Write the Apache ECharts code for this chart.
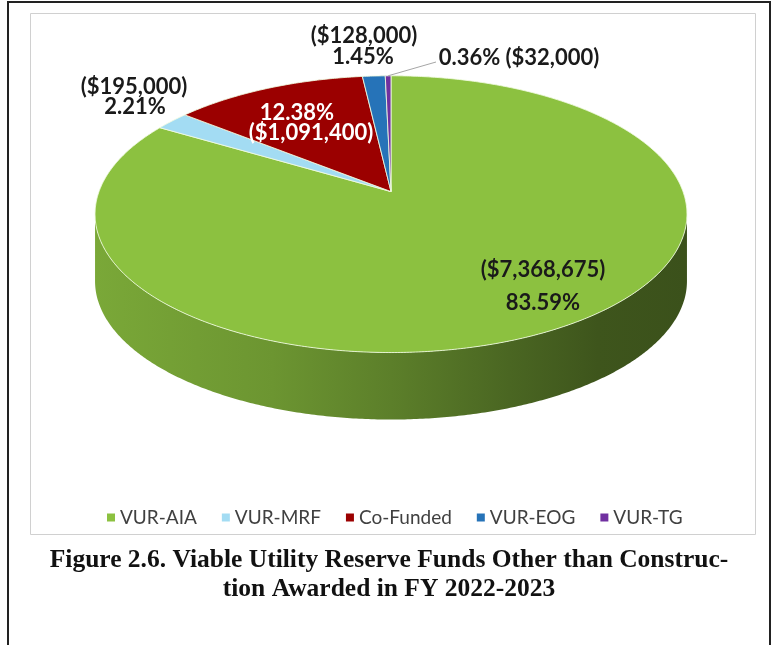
<!DOCTYPE html>
<html><head><meta charset="utf-8">
<script src="https://cdn.jsdelivr.net/npm/echarts@6/dist/echarts.min.js"></script>
<style>html,body{margin:0;padding:0;background:#fff}#c{width:778px;height:645px}</style>
</head><body><div id="c"></div>
<script>
// ---- data ----
const categories = ['VUR-AIA', 'VUR-MRF', 'Co-Funded', 'VUR-EOG', 'VUR-TG'];
const amounts = [7368675, 195000, 1091400, 128000, 32000];
const amountLabels = ['($7,368,675)', '($195,000)', '($1,091,400)', '($128,000)', '($32,000)'];
const percentLabels = ['83.59%', '2.21%', '12.38%', '1.45%', '0.36%'];
const captionText = 'Figure 2.6. Viable Utility Reserve Funds Other than Construc-\ntion Awarded in FY 2022-2023';

// ---- styles / layout ----
const colors = ['#8cc140', '#a3dcf3', '#9b0000', '#2673b8', '#7030a0'];
const geo = { cx: 391, cy: 191.6, A: 292, B: 134.7, k: 0.163, h: 67 };
const labelFont = 'bold 22px Lato';
const labelLayout = [
  { lines: [['amt', 543, 270], ['pct', 543, 303]], color: '#1a1a1a' },
  { lines: [['amt', 134, 87], ['pct', 135, 107]], color: '#1a1a1a' },
  { lines: [['pct', 297, 113], ['amt', 311, 133]], color: '#ffffff' },
  { lines: [['amt', 364, 36], ['pct', 363, 57]], color: '#1a1a1a' },
  { lines: [['both', 519, 58]], color: '#1a1a1a', leader: [436, 62] }
];

const total = amounts.reduce((a, b) => a + b, 0);
const starts = [];
{ let acc = 0; amounts.forEach(v => { starts.push(acc / total); acc += v; }); }

function proj(frac, drop) {
  const t = frac * 2 * Math.PI;
  const u = Math.sin(t), v = Math.cos(t);
  const d = 1 + geo.k * v;
  return [geo.cx + geo.A * u / d, geo.cy - geo.B * v / d + drop];
}
function arcPts(f1, f2, drop) {
  const n = Math.max(2, Math.ceil((f2 - f1) * 720));
  const pts = [];
  for (let i = 0; i <= n; i++) pts.push(proj(f1 + (f2 - f1) * i / n, drop));
  return pts;
}
const silA = Math.acos(-geo.k) / (2 * Math.PI);
const silB = 1 - silA;

function shade(hex, f) {
  const n = parseInt(hex.slice(1), 16);
  const r = Math.round(((n >> 16) & 255) * f), g = Math.round(((n >> 8) & 255) * f), b = Math.round((n & 255) * f);
  return 'rgb(' + r + ',' + g + ',' + b + ')';
}
function sideGradient(c) {
  return { type: 'linear', x: 95, y: 0, x2: 687, y2: 0, global: true, colorStops: [
    { offset: 0, color: shade(c, 0.87) }, { offset: 0.3, color: shade(c, 0.77) },
    { offset: 0.5, color: shade(c, 0.66) }, { offset: 0.7, color: shade(c, 0.53) },
    { offset: 0.85, color: shade(c, 0.44) }, { offset: 1, color: shade(c, 0.42) }] };
}

function renderSide(params, api) {
  const i = params.dataIndex;
  const f1 = starts[i], f2 = f1 + api.value(0) / total;
  const a = Math.max(f1, silA), b = Math.min(f2, silB);
  if (b <= a) return { type: 'group', children: [] };
  const top = arcPts(a, b, 0);
  const bot = arcPts(a, b, geo.h).reverse();
  return { type: 'polygon', shape: { points: top.concat(bot) }, style: { fill: sideGradient(colors[i]) } };
}

function renderTop(params, api) {
  const i = params.dataIndex;
  const f1 = starts[i], f2 = f1 + api.value(0) / total;
  const pts = [[geo.cx, geo.cy]].concat(arcPts(f1, f2, 0));
  return { type: 'polygon', shape: { points: pts },
    style: { fill: colors[i], stroke: 'rgba(240,250,225,0.85)', lineWidth: 1 } };
}

function renderLabel(params, api) {
  const i = params.dataIndex;
  const L = labelLayout[i];
  const children = [];
  L.lines.forEach(([kind, x, y]) => {
    const text = kind === 'amt' ? amountLabels[i] : kind === 'pct' ? percentLabels[i]
      : percentLabels[i] + ' ' + amountLabels[i];
    children.push({ type: 'text', x: x, y: y,
      style: { text: text, font: labelFont, fill: L.color, align: 'center', verticalAlign: 'middle' } });
  });
  if (L.leader) {
    const f1 = starts[i], f2 = f1 + api.value(0) / total;
    const p = proj((f1 + f2) / 2, 0);
    children.push({ type: 'line', shape: { x1: p[0], y1: p[1], x2: L.leader[0], y2: L.leader[1] },
      style: { stroke: '#a6a6a6', lineWidth: 1 } });
  }
  return { type: 'group', children };
}

const chart = echarts.init(document.getElementById('c'), null, { renderer: 'canvas' });
const seriesData = amounts.map((v, i) => ({ name: categories[i], value: [v] }));
chart.setOption({
  animation: false,
  backgroundColor: '#ffffff',
  title: {
    text: captionText, left: 'center', top: 541,
    textStyle: { fontFamily: 'Liberation Serif', fontWeight: 'bold', fontSize: 25.5, lineHeight: 29, color: '#111111' }
  },
  legend: {
    data: categories, left: 102, top: 503, icon: 'rect', itemWidth: 8, itemHeight: 8, itemGap: 25,
    selectedMode: false,
    textStyle: { fontFamily: 'Lato', fontSize: 19, color: '#404040' }
  },
  graphic: [
    { type: 'rect', shape: { x: 8, y: 2, width: 762, height: 720 }, style: { fill: 'none', stroke: '#222222', lineWidth: 2 }, z: 0 },
    { type: 'rect', shape: { x: 30.5, y: 13.5, width: 725, height: 521 }, style: { fill: 'none', stroke: '#d0d0d0', lineWidth: 1 }, z: 0 }
  ],
  series: [
    { type: 'pie', radius: [0, 0], center: [391, 192], silent: true, label: { show: false }, labelLine: { show: false },
      data: categories.map((n, i) => ({ name: n, value: amounts[i], itemStyle: { color: colors[i] } })) },
    { type: 'custom', name: 'side', coordinateSystem: 'none', renderItem: renderSide, data: seriesData, z: 1, silent: true },
    { type: 'custom', name: 'top', coordinateSystem: 'none', renderItem: renderTop, data: seriesData, z: 2, silent: true },
    { type: 'custom', name: 'labels', coordinateSystem: 'none', renderItem: renderLabel, data: seriesData, z: 3, silent: true }
  ]
});
</script></body></html>
